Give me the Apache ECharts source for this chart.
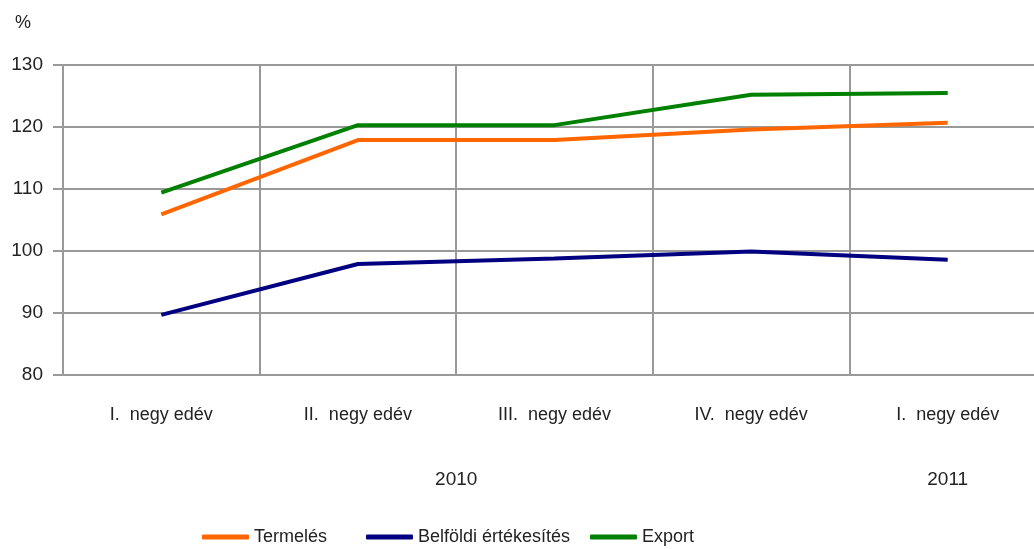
<!DOCTYPE html>
<html>
<head>
<meta charset="utf-8">
<script src="https://cdn.jsdelivr.net/npm/echarts@6/dist/echarts.min.js"></script>
<style>
  html, body { margin: 0; padding: 0; background: #fff; }
  #chart { width: 1034px; height: 549px; }
</style>
</head>
<body>
<div id="chart"></div>
<script>
// negyedévek
const categories = ["I.  negy edév", "II.  negy edév", "III.  negy edév", "IV.  negy edév", "I.  negy edév"];
// évek (második szint)
const yearLabels = ["", "", "", "", "2010", "", "", "", "", "2011", ""];

const seriesNames = ["Termelés", "Belföldi értékesítés", "Export"];
const termeles = [105.9, 117.9, 117.9, 119.6, 120.7];
const belfoldi = [89.7, 97.9, 98.8, 99.9, 98.6];
const exportData = [109.4, 120.3, 120.3, 125.2, 125.5];

const font = "'Liberation Sans', Arial, sans-serif";
const gridColor = "#999";

const chart = echarts.init(document.getElementById("chart"));

// egy jelmagyarázat elemenként, hogy a helyük a mintához igazodjon
const legendLeft = [202, 366, 590];
const legends = seriesNames.map((name, i) => ({
  bottom: 3,
  left: legendLeft[i],
  padding: 0,
  itemWidth: 47,
  itemHeight: 5,
  icon: "roundRect",
  textStyle: { fontSize: 18, color: "#222", fontFamily: font },
  data: [name],
}));

chart.setOption({
  animation: false,
  textStyle: { fontFamily: font },
  grid: {
    left: 63,
    right: -12,
    top: 65,
    bottom: 174,
    outerBoundsMode: "none",
  },
  legend: legends,
  xAxis: [
    {
      type: "category",
      data: categories,
      boundaryGap: true,
      axisLine: { lineStyle: { color: gridColor, width: 2 } },
      axisTick: { show: false },
      axisLabel: { margin: 31, fontSize: 18, color: "#222", interval: 0 },
      splitLine: { show: true, lineStyle: { color: gridColor, width: 2 } },
    },
    {
      type: "category",
      data: yearLabels,
      boundaryGap: false,
      position: "bottom",
      axisLine: { show: false },
      axisTick: { show: false },
      splitLine: { show: false },
      axisLabel: { margin: 95, fontSize: 19, color: "#222", interval: 0 },
    },
  ],
  yAxis: {
    type: "value",
    min: 80,
    max: 130,
    interval: 10,
    name: "%",
    nameLocation: "end",
    nameGap: 33,
    nameTextStyle: { fontSize: 18, color: "#222", align: "right", padding: [0, 32, 0, 0] },
    axisLine: { show: true, lineStyle: { color: gridColor, width: 2 } },
    axisTick: { show: true, length: 10, lineStyle: { color: gridColor, width: 2 } },
    axisLabel: { margin: 20, fontSize: 19, color: "#222" },
    splitLine: { lineStyle: { color: gridColor, width: 2 } },
  },
  series: [
    {
      name: seriesNames[0],
      type: "line",
      data: termeles,
      color: "#FF6600",
      showSymbol: false,
      lineStyle: { width: 4 },
    },
    {
      name: seriesNames[1],
      type: "line",
      data: belfoldi,
      color: "#000080",
      showSymbol: false,
      lineStyle: { width: 4 },
    },
    {
      name: seriesNames[2],
      type: "line",
      data: exportData,
      color: "#008000",
      showSymbol: false,
      lineStyle: { width: 4 },
    },
  ],
});
</script>
</body>
</html>
